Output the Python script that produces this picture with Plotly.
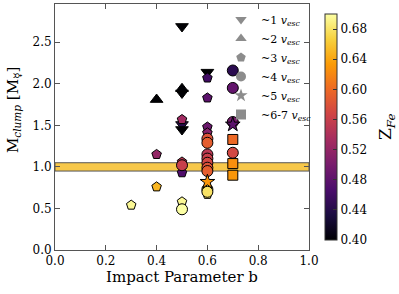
import plotly.graph_objects as go

# ~1 v_esc (triangle-down)
b1 = [0.5, 0.5, 0.5, 0.5, 0.6]
m1 = [2.69, 1.89, 1.51, 1.45, 2.14]
z1 = [0.40, 0.40, 0.44, 0.40, 0.40]
# ~2 v_esc (triangle-up)
b2 = [0.4, 0.5]
m2 = [1.81, 1.94]
z2 = [0.40, 0.40]
# ~3 v_esc (pentagon)
b3 = [0.3, 0.4, 0.4, 0.5, 0.5, 0.5, 0.5, 0.6, 0.6, 0.6, 0.6, 0.6]
m3 = [0.54, 1.15, 0.76, 1.57, 1.06, 0.93, 0.58, 2.07, 1.83, 1.48, 1.41, 0.67]
z3 = [0.695, 0.52, 0.65, 0.53, 0.55, 0.47, 0.695, 0.46, 0.48, 0.49, 0.51, 0.68]
# ~4 v_esc (circle)
b4 = [0.5, 0.5, 0.6, 0.6, 0.6, 0.6, 0.6, 0.6, 0.6, 0.6, 0.6, 0.7, 0.7, 0.7, 0.7]
m4 = [1.02, 0.49, 1.34, 1.29, 1.15, 1.10, 1.05, 0.99, 0.95, 0.73, 0.70, 2.16, 1.95, 1.54, 1.17]
z4 = [0.56, 0.70, 0.58, 0.59, 0.55, 0.56, 0.57, 0.58, 0.59, 0.67, 0.68, 0.445, 0.485, 0.50, 0.57]
# ~5 v_esc (star)
b5 = [0.6, 0.7]
m5 = [0.82, 1.51]
z5 = [0.63, 0.48]
# ~6-7 v_esc (square)
b6 = [0.7, 0.7, 0.7]
m6 = [1.33, 1.04, 0.90]
z6 = [0.60, 0.625, 0.63]

groups = [
    (b1, m1, z1, "triangle-down", "~1", 11),
    (b2, m2, z2, "triangle-up", "~2", 11),
    (b3, m3, z3, "pentagon", "~3", 10),
    (b4, m4, z4, "circle", "~4", 11),
    (b5, m5, z5, "star", "~5", 11),
    (b6, m6, z6, "square", "~6-7", 10),
]

xticks = [0.0, 0.2, 0.4, 0.6, 0.8, 1.0]
yticks = [0.0, 0.5, 1.0, 1.5, 2.0, 2.5]
cticks = [0.40, 0.44, 0.48, 0.52, 0.56, 0.60, 0.64, 0.68]

FONT = "DejaVu Serif"
fig = go.Figure()

for bx, my, zc, sym, lab, sz in groups:
    fig.add_trace(go.Scatter(
        x=bx, y=my, mode="markers", showlegend=False,
        marker=dict(symbol=sym, size=sz, color=zc, coloraxis="coloraxis",
                    line=dict(color="black", width=1)),
    ))
# legend entries (gray)
for bx, my, zc, sym, lab, sz in groups:
    fig.add_trace(go.Scatter(
        x=[None], y=[None], mode="markers",
        name=f"{lab} <i>v</i><sub><i>esc</i></sub>",
        marker=dict(symbol=sym, size=10, color="#8c8c8c", line=dict(width=0)),
    ))

fig.add_shape(type="rect", xref="x", yref="y", x0=0, x1=1, y0=0.95, y1=1.05,
              fillcolor="#F7C84A", line=dict(color="#555555", width=1), layer="below")

fig.update_layout(
    width=399, height=294,
    margin=dict(l=55, r=90, t=4, b=44, autoexpand=False),
    paper_bgcolor="white", plot_bgcolor="white",
    font=dict(family=FONT, size=12, color="black"),
    coloraxis=dict(
        colorscale="Inferno", cmin=0.40, cmax=0.70,
        colorbar=dict(
            x=(325 - 55) / 254, xanchor="left", xpad=0, y=0.5, yanchor="middle",
            thickness=12, len=246, lenmode="pixels",
            outlinewidth=1, outlinecolor="#333333",
            tickvals=cticks, ticktext=[f"{v:.2f}" for v in cticks],
            ticks="inside", ticklen=4, tickcolor="#333333",
            tickfont=dict(family=FONT, size=12),
        ),
    ),
    legend=dict(x=(221 - 55) / 254, y=1 - (5 - 4) / 246, xanchor="left", yanchor="top",
                bgcolor="rgba(0,0,0,0)", font=dict(family=FONT, size=11),
                itemwidth=30, tracegroupgap=0),
    xaxis=dict(range=[0, 1], tickvals=xticks, ticktext=[f"{v:.1f}" for v in xticks],
               showline=True, linecolor="#555555", linewidth=1, mirror="ticks",
               ticks="inside", ticklen=5, tickcolor="#555555", showgrid=False,
               zeroline=False,
               title=dict(text="Impact Parameter b", font=dict(family=FONT, size=15), standoff=4)),
    yaxis=dict(range=[0, 2.96], tickvals=yticks, ticktext=[f"{v:.1f}" for v in yticks],
               showline=True, linecolor="#555555", linewidth=1, mirror="ticks",
               ticks="inside", ticklen=5, tickcolor="#555555", showgrid=False,
               zeroline=False),
    annotations=[
        dict(text="M<sub><i>clump</i></sub> [M<sub>☿</sub>]", textangle=-90,
             xref="paper", yref="paper", x=(13 - 55) / 254, y=1 - (110 - 4) / 246,
             xanchor="center", yanchor="middle", showarrow=False,
             font=dict(family=FONT, size=15)),
        dict(text="Z<sub><i>Fe</i></sub>", textangle=-90,
             xref="paper", yref="paper", x=(386 - 55) / 254, y=1 - (127 - 4) / 246,
             xanchor="center", yanchor="middle", showarrow=False,
             font=dict(family=FONT, size=17)),
    ],
)

fig.write_html("out.html", config={"displayModeBar": False},
               post_script="document.body.style.margin='0';document.body.style.overflow='hidden';")
